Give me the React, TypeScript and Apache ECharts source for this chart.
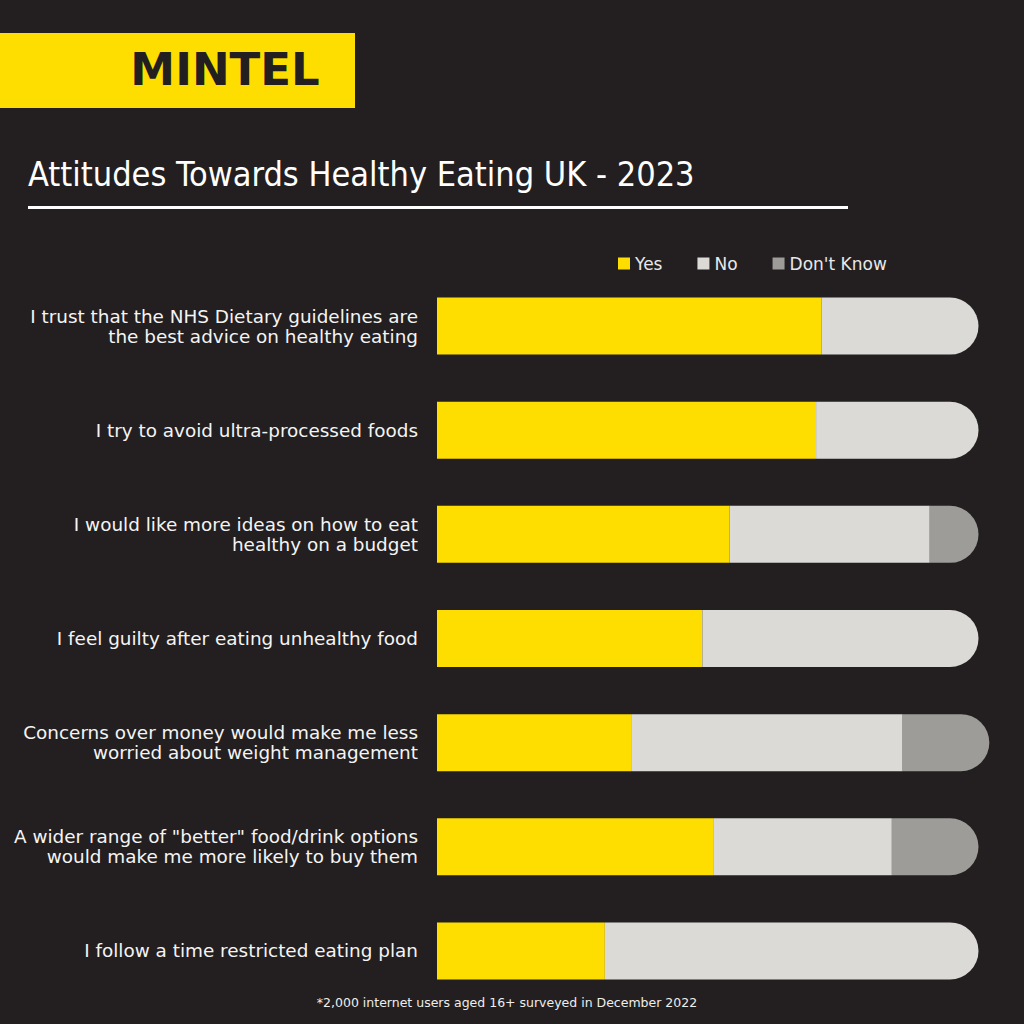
import React, { useEffect, useRef } from "react";
import * as echarts from "echarts";

const categories = [
  "I trust that the NHS Dietary guidelines are\nthe best advice on healthy eating",
  "I try to avoid ultra-processed foods",
  "I would like more ideas on how to eat\nhealthy on a budget",
  "I feel guilty after eating unhealthy food",
  "Concerns over money would make me less\nworried about weight management",
  "A wider range of \"better\" food/drink options\nwould make me more likely to buy them",
  "I follow a time restricted eating plan",
];
const yesValues = [71, 70, 54, 49, 36, 51, 31];
const noValues = [29, 30, 37, 51, 50, 33, 69];
const dontKnowValues = [0, 0, 9, 0, 16, 16, 0];

const seriesNames = ["Yes", "No", "Don't Know"];
const colors = ["#fedd00", "#dbdad7", "#9d9c98"];
const title = "Attitudes Towards Healthy Eating UK - 2023";
const footnote = "*2,000 internet users aged 16+ surveyed in December 2022";
const brand = "MINTEL";

export default function App() {
  const ref = useRef<HTMLDivElement>(null);
  useEffect(() => {
    if (!ref.current) return;
    const chart = echarts.init(ref.current, null, { renderer: "svg" });
    const all = [yesValues, noValues, dontKnowValues];
    const R = 28.5;
    const series = all.map((vals, si) => ({
      name: seriesNames[si],
      type: "bar",
      stack: "total",
      barWidth: 57,
      clip: false,
      itemStyle: { color: colors[si] },
      data: vals.map((v, i) => {
        let last = 0;
        all.forEach((arr, k) => {
          if (arr[i] > 0) last = k;
        });
        return {
          value: v,
          itemStyle: { borderRadius: si === last ? [0, R, R, 0] : 0 },
        };
      }),
    }));
    chart.setOption({
      animation: false,
      backgroundColor: "#231f20",
      textStyle: { fontFamily: "DejaVu Sans" },
      legend: {
        data: seriesNames,
        left: 613,
        top: 250,
        icon: "rect",
        itemWidth: 12,
        itemHeight: 12,
        itemGap: 35,
        itemTextGap: 10,
        itemStyle: { borderWidth: 0 },
        textStyle: { color: "#e8e8e8", fontSize: 17, fontFamily: "DejaVu Sans" },
      },
      grid: { left: 437, right: 45.5, top: 274, bottom: 21, containLabel: false },
      xAxis: {
        type: "value",
        min: 0,
        max: 100,
        show: false,
      },
      yAxis: {
        type: "category",
        inverse: true,
        data: categories,
        axisLine: { show: false },
        axisTick: { show: false },
        axisLabel: {
          color: "#f4f4f4",
          fontSize: 18.4,
          lineHeight: 20,
          margin: 19,
          align: "right",
          fontFamily: "DejaVu Sans",
        },
      },
      series,
      graphic: [
        { type: "rect", shape: { x: 0, y: 33, width: 355, height: 75 }, style: { fill: "#fedd00" } },
        {
          type: "text",
          x: 225,
          y: 69,
          style: {
            text: brand,
            fill: "#231f20",
            font: "bold 45px 'DejaVu Sans'",
            align: "center",
            verticalAlign: "middle",
          },
        },
        {
          type: "text",
          x: 28,
          y: 174,
          style: {
            text: title,
            fill: "#ffffff",
            font: "34px 'DejaVu Sans Condensed'",
            align: "left",
            verticalAlign: "middle",
          },
        },
        {
          type: "rect",
          shape: { x: 28, y: 206, width: 820, height: 3 },
          style: { fill: "#ffffff" },
        },
        {
          type: "text",
          x: 507,
          y: 1002,
          style: {
            text: footnote,
            fill: "#eeeeee",
            font: "12.5px 'DejaVu Sans'",
            align: "center",
            verticalAlign: "middle",
          },
        },
      ],
    });
    return () => chart.dispose();
  }, []);
  return (
    <div
      ref={ref}
      style={{ position: "fixed", left: 0, top: 0, width: 1024, height: 1024 }}
    />
  );
}
